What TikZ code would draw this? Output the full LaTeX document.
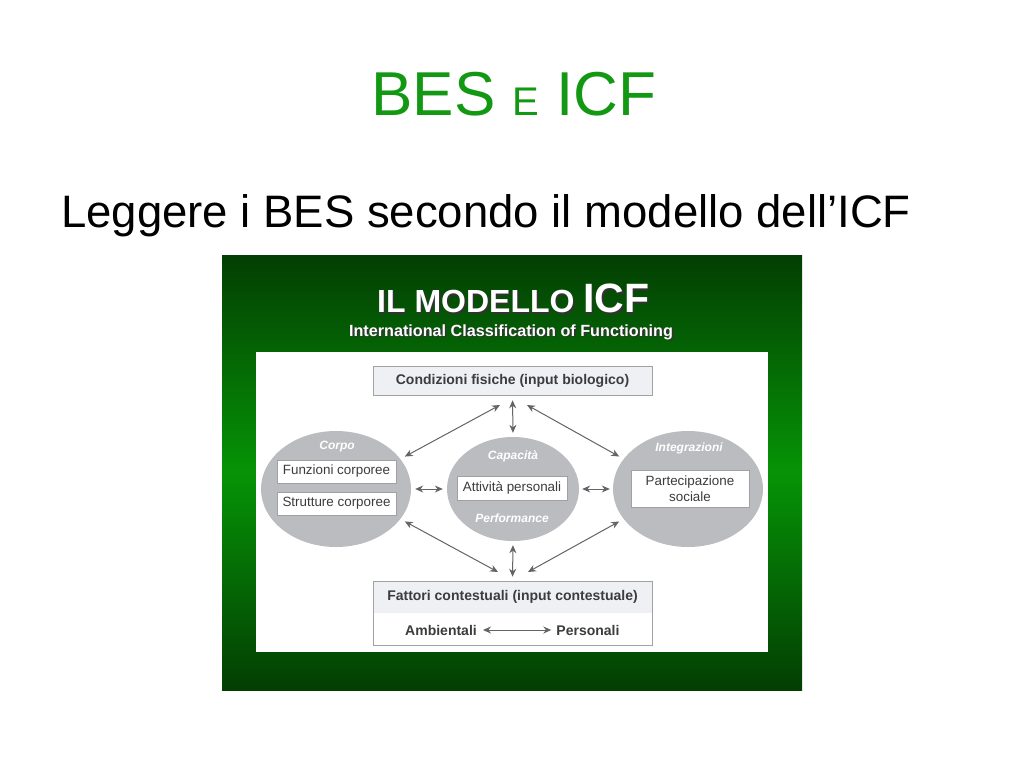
\documentclass[tikz,border=0pt]{standalone}
\usepackage{fontspec}
\setmainfont{Liberation Sans}
\usetikzlibrary{shapes.geometric, arrows.meta}
\definecolor{titlegreen}{RGB}{18,152,18}
\definecolor{gdark}{RGB}{3,62,3}
\definecolor{gmid}{RGB}{6,148,6}
\definecolor{ellgray}{RGB}{187,188,191}
\definecolor{boxborder}{RGB}{160,160,165}
\definecolor{hdrgray}{RGB}{238,240,243}
\definecolor{txtgray}{RGB}{60,60,62}
\definecolor{arrgray}{RGB}{100,100,103}
\begin{document}
\begin{tikzpicture}[x=1pt,y=-1pt,
  ell/.style={ellipse, fill=ellgray, inner sep=0pt},
  wbox/.style={rectangle, draw=boxborder, fill=white, line width=0.6pt, inner sep=1pt, align=center, text=txtgray, font=\fontsize{13.4}{15}\selectfont},
  elab/.style={text=white, font=\fontsize{12}{14}\selectfont\bfseries\itshape},
  boldtxt/.style={text=txtgray, font=\fontsize{14}{16}\selectfont\bfseries},
  dbl/.style={draw=arrgray, line width=1pt, {Stealth[length=8pt,width=7pt]}-{Stealth[length=8pt,width=7pt]}}
]
\useasboundingbox (0,0) rectangle (1024,768);
\fill[white] (0,0) rectangle (1024,768);

% slide titles
\node[anchor=base, text=titlegreen, inner sep=0pt] (title) at (514,115)
  {\fontsize{62}{64}\selectfont BES {\fontsize{40}{42}\selectfont E} ICF};
\node[anchor=base west, inner sep=0pt] (sub) at (61,227)
  {\fontsize{45.5}{54}\selectfont Leggere i BES secondo il modello dell’ICF};

% green panel
\shade[top color=gdark, bottom color=gdark, middle color=gmid] (222,255) rectangle (802,690);
\fill[white] (256,352) rectangle (768,652);

% panel header with shadow
\node[anchor=base west, inner sep=0pt, text=black!80, font=\fontsize{32}{34}\selectfont\bfseries] (hsh) at (378.5,314)
  {IL MODELLO};
\node[anchor=base west, inner sep=0pt, text=white, font=\fontsize{32}{34}\selectfont\bfseries] (h1) at (377,312.5)
  {IL MODELLO};
\node[anchor=base west, inner sep=0pt, text=black!80, font=\fontsize{41}{43}\selectfont\bfseries] (icfsh) at (584.5,314)
  {ICF};
\node[anchor=base west, inner sep=0pt, text=white, font=\fontsize{41}{43}\selectfont\bfseries] (icf) at (583,312.5)
  {ICF};
\node[anchor=base, inner sep=0pt, text=black!80, font=\fontsize{16.2}{18}\selectfont\bfseries] (ssh) at (512.5,337.5)
  {International Classification of Functioning};
\node[anchor=base, inner sep=0pt, text=white, font=\fontsize{16.2}{18}\selectfont\bfseries] (st) at (511,336.5)
  {International Classification of Functioning};

% top box
\node[wbox, fill=hdrgray, minimum width=279, minimum height=29, boldtxt] (cond) at (512.5,380.5)
  {Condizioni fisiche (input biologico)};

% ellipses
\node[ell, minimum width=150, minimum height=116] (corpo) at (336,489) {};
\node[ell, minimum width=132, minimum height=104] (cap) at (513,489) {};
\node[ell, minimum width=150, minimum height=116] (integ) at (688,489) {};

\node[elab] (lcorpo) at (337,447) {Corpo};
\node[elab] (lcap) at (513,456) {Capacità};
\node[elab] (lperf) at (512,518) {Performance};
\node[elab] (linteg) at (689,448) {Integrazioni};

\node[wbox, minimum width=119, minimum height=23] (funz) at (336.5,471.5) {Funzioni corporee};
\node[wbox, minimum width=119, minimum height=23] (strut) at (336.5,503.5) {Strutture corporee};
\node[wbox, minimum width=110, minimum height=24] (att) at (512,488) {Attività personali};
\node[wbox, minimum width=118, minimum height=37, font=\fontsize{13.4}{15.5}\selectfont] (part) at (690,488.5) {Partecipazione\\sociale};

% bottom box
\node[rectangle, fill=hdrgray, minimum width=279, minimum height=32, inner sep=0pt, boldtxt] (fathdr) at (512.5,597)
  {Fattori contestuali (input contestuale)};
\node[rectangle, draw=boxborder, line width=0.6pt, minimum width=279, minimum height=64, inner sep=0pt] (fat) at (512.5,613) {};
\node[boldtxt, inner sep=0pt] (amb) at (441,630) {Ambientali};
\node[boldtxt, inner sep=0pt] (pers) at (588,630) {Personali};

% named free ends near the boxes
\coordinate (cTL) at (500,405);
\coordinate (cTR) at (527,405);
\coordinate (cBL) at (498,572);
\coordinate (cBR) at (528,572);

% connectors
\draw[dbl, shorten <=5pt, shorten >=4pt] (cond.south) -- (cap.north);
\draw[dbl, shorten <=4pt, shorten >=4pt] (cap.south) -- (fat.north);
\draw[dbl, shorten <=4pt, shorten >=4pt] (corpo.east) -- (cap.west);
\draw[dbl, shorten <=3pt, shorten >=3pt] (cap.east) -- (integ.west);
\draw[dbl, shorten <=5pt] (corpo.25) -- (cTL);
\draw[dbl, shorten <=5pt] (integ.155) -- (cTR);
\draw[dbl, shorten <=5pt] (corpo.-25) -- (cBL);
\draw[dbl, shorten <=5pt] (integ.-155) -- (cBR);
\draw[dbl, shorten <=6pt, shorten >=5pt] (amb.east) -- (pers.west);
\end{tikzpicture}
\end{document}
